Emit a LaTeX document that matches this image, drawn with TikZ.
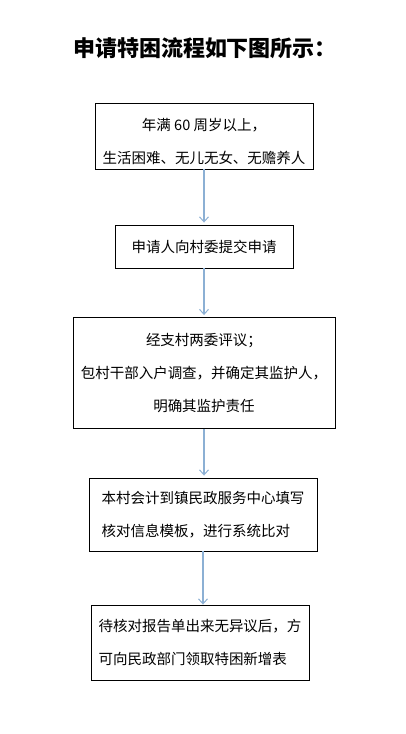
\documentclass[tikz,border=0pt]{standalone}
\usepackage{fontspec}
\newfontfamily\cjk{Noto Sans CJK SC}
\usetikzlibrary{arrows.meta}
\definecolor{arrowblue}{RGB}{140,176,212}
\begin{document}
\begin{tikzpicture}[x=1pt,y=-1pt,
  box/.style={draw=black,line width=0.9pt,inner sep=0pt,font=\cjk\fontsize{14.5}{33}\selectfont},
  txt/.style={inner sep=0pt,font=\cjk\fontsize{14.5}{33}\selectfont},
  flow/.style={draw=arrowblue,line width=1.3pt,-{Straight Barb[length=5pt,width=9pt,line width=1pt]}}]
\useasboundingbox (0,0) rectangle (406,734);
\node (title) at (205,48) {\cjk\bfseries\fontsize{22}{26}\selectfont 申请特困流程如下图所示：};
\node[box,minimum width=218pt,minimum height=66pt] (b1) at (204,136) {};
\node[txt,align=center] (b1t) at (204,141) {年满 60 周岁以上，\\生活困难、无儿无女、无赡养人};
\node[box,minimum width=178pt,minimum height=43pt] (b2) at (204,246.5) {申请人向村委提交申请};
\node[box,minimum width=262pt,minimum height=111pt,align=center] (b3) at (204,373) {经支村两委评议；\\包村干部入户调查，并确定其监护人，\\明确其监护责任};
\node[box,minimum width=228pt,minimum height=73pt,align=left] (b4) at (203,514.5) {本村会计到镇民政服务中心填写\\核对信息模板，进行系统比对};
\node[box,minimum width=218pt,minimum height=75pt,align=left] (b5) at (200,642.5) {待核对报告单出来无异议后，方\\可向民政部门领取特困新增表};
\draw[flow,shorten >=2pt] (b1.south) -- (b2.north);
\draw[flow,shorten >=2pt] (b2.south) -- (b2.south |- b3.north);
\draw[flow,shorten >=2pt] (b3.south) -- (b3.south |- b4.north);
\draw[flow] (b4.south) -- (b4.south |- b5.north);
\end{tikzpicture}
\end{document}
